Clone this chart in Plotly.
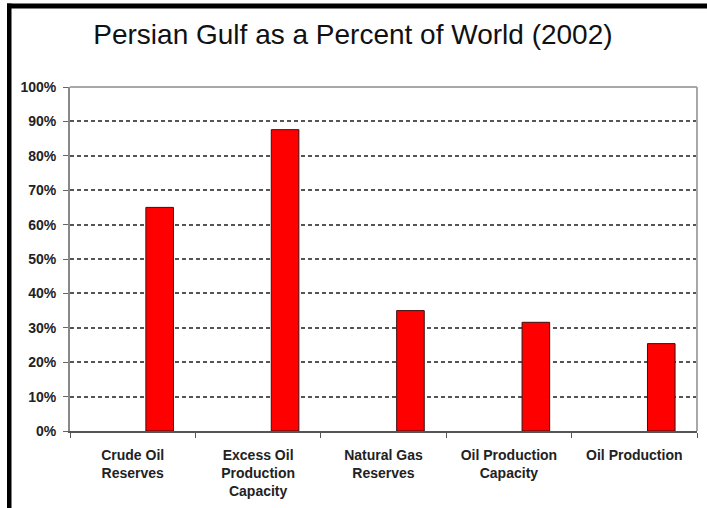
import plotly.graph_objects as go

categories = ["Crude Oil<br>Reserves", "Excess Oil<br>Production<br>Capacity",
              "Natural Gas<br>Reserves", "Oil Production<br>Capacity", "Oil Production"]
values = [65.0, 87.6, 35.0, 31.6, 25.4]
tick_vals = [0, 10, 20, 30, 40, 50, 60, 70, 80, 90, 100]
tick_text = [f"{v}%" for v in tick_vals]
title_text = "Persian Gulf as a Percent of World (2002)"

fig = go.Figure()
fig.add_trace(go.Bar(
    x=categories, y=values,
    marker=dict(color="#ff0000", line=dict(color="#3a1010", width=1)),
    width=0.22, offset=0.105,
    hoverinfo="x+y",
))

L, R, T, B = 70, 10, 87, 77
W, H = 707, 508
pw, ph = W - L - R, H - T - B

def px(x):
    return (x - L) / pw

def py(y):
    return 1 - (y - T) / ph

fig.update_layout(
    width=W, height=H,
    margin=dict(l=L, r=R, t=T, b=B),
    paper_bgcolor="white", plot_bgcolor="white",
    showlegend=False,
    title=dict(text=title_text, x=px(383), xanchor="center",
               y=1 - 34 / H, yanchor="middle",
               font=dict(family="Liberation Sans, Arial", size=28, color="#111")),
    xaxis=dict(
        type="category", range=[-0.5, 4.5],
        showline=True, linecolor="#555", linewidth=2,
        ticks="outside", tickson="boundaries", ticklen=5, tickcolor="#555", tickwidth=1,
        showgrid=False, mirror=False, ticklabelstandoff=10,
        tickfont=dict(family="Liberation Sans, Arial", size=14, color="#222", weight="bold"),
    ),
    yaxis=dict(
        range=[0, 100], tickvals=tick_vals, ticktext=tick_text,
        showline=True, linecolor="#888", linewidth=2,
        ticks="outside", ticklen=5, tickcolor="#666",
        showgrid=True, gridcolor="#555", gridwidth=1.5, griddash="4px,3px",
        zeroline=False, ticklabelstandoff=4,
        tickfont=dict(family="Liberation Sans, Arial", size=14, color="#222", weight="bold"),
    ),
    bargap=0.3,
)

# plot frame: top and right gray lines
fig.add_shape(type="line", xref="paper", yref="paper", x0=0, x1=1, y0=1, y1=1,
              line=dict(color="#a8a8a8", width=2))
fig.add_shape(type="line", xref="paper", yref="paper", x0=1, x1=1, y0=0, y1=1,
              line=dict(color="#a8a8a8", width=2))
# outer black border (top and left) as filled rectangles
fig.add_shape(type="rect", xref="paper", yref="paper", x0=px(7), x1=px(707),
              y0=py(8.5), y1=py(3.5), fillcolor="black", line=dict(width=0), layer="above")
fig.add_shape(type="rect", xref="paper", yref="paper", x0=px(7), x1=px(11.5),
              y0=py(508), y1=py(3.5), fillcolor="black", line=dict(width=0), layer="above")

fig.write_html("out.html", config={"displayModeBar": False},
               post_script="document.body.style.margin='0';document.body.style.overflow='hidden';")
